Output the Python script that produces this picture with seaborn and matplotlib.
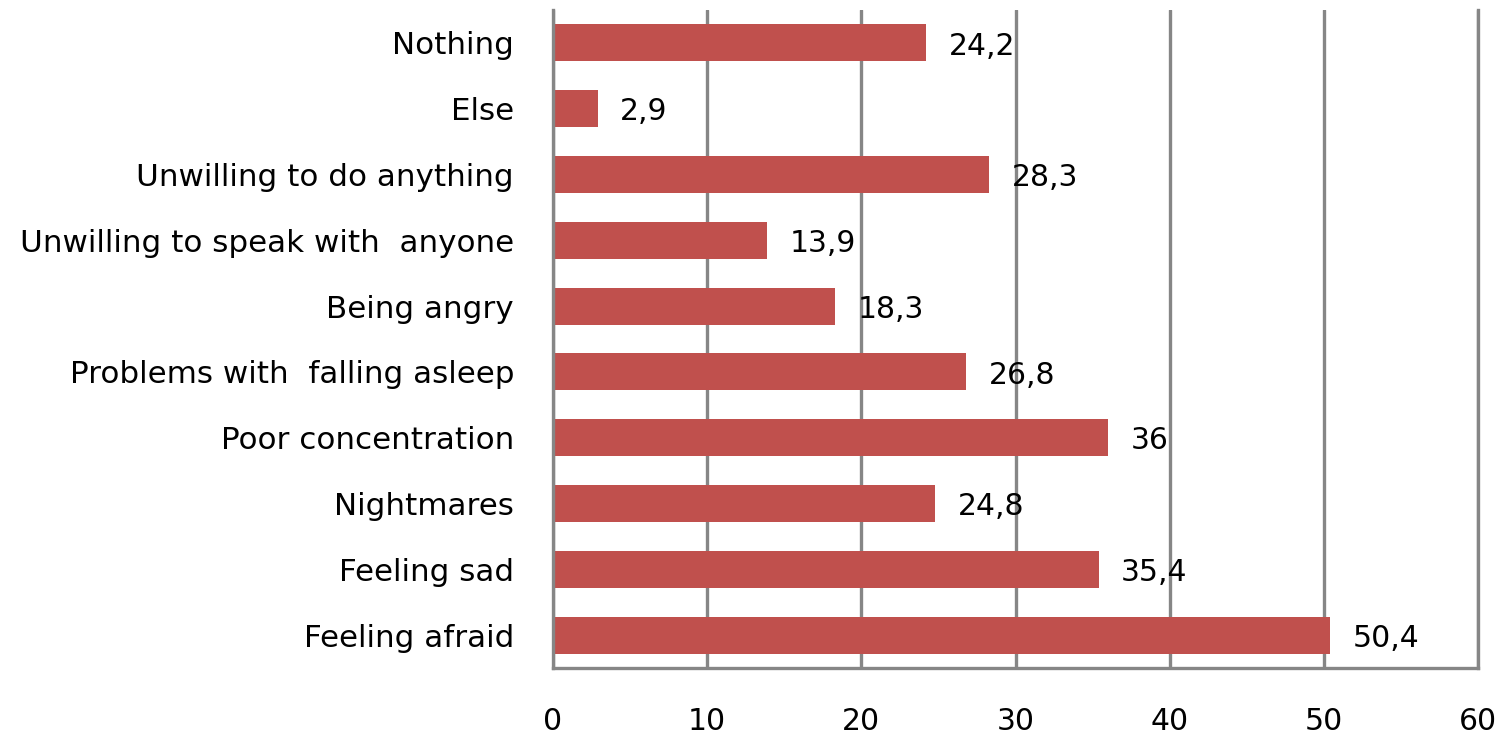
import matplotlib
matplotlib.use("Agg")
import matplotlib.pyplot as plt
import seaborn as sns
import pandas as pd

categories = [
    "Nothing",
    "Else",
    "Unwilling to do anything",
    "Unwilling to speak with  anyone",
    "Being angry",
    "Problems with  falling asleep",
    "Poor concentration",
    "Nightmares",
    "Feeling sad",
    "Feeling afraid",
]
values = [24.2, 2.9, 28.3, 13.9, 18.3, 26.8, 36, 24.8, 35.4, 50.4]
x_ticks = [0, 10, 20, 30, 40, 50, 60]

df = pd.DataFrame({"symptom": categories, "percent": values})

sns.set_style("white")
plt.rcParams["font.family"] = ["DejaVu Sans"]

fig = plt.figure(figsize=(15.01, 7.37), dpi=100)
ax = fig.add_axes([553 / 1501, 1 - 668 / 737, (1478 - 553) / 1501, (668 - 10) / 737])

grid_color = "#868686"
ax.set_axisbelow(True)
for t in x_ticks:
    ax.axvline(t, color=grid_color, lw=2.4, zorder=0)

sns.barplot(data=df, x="percent", y="symptom", orient="h", color="#C0504D",
            saturation=1, width=0.56, edgecolor="none", ax=ax, zorder=2)

for i, v in enumerate(values):
    label = f"{v:g}".replace(".", ",")
    ax.text(v + 1.45, i + 0.05, label, va="center", ha="left", fontsize=21.5, color="#000000")

ax.set_xlim(0, 60)
ax.set_ylim(9.5, -0.5)
ax.set_xticks(x_ticks)
ax.set_xticklabels([str(t) for t in x_ticks], fontsize=21.5, color="#000000")
ax.tick_params(axis="x", length=0, pad=28)
ax.tick_params(axis="y", length=0, pad=28, labelsize=22.3, labelcolor="#000000")
ax.set_xlabel("")
ax.set_ylabel("")

ax.spines["top"].set_visible(False)
for side in ["left", "bottom", "right"]:
    ax.spines[side].set_color(grid_color)
    ax.spines[side].set_linewidth(2.4)

fig.savefig("out.png", dpi=100, facecolor="white")
